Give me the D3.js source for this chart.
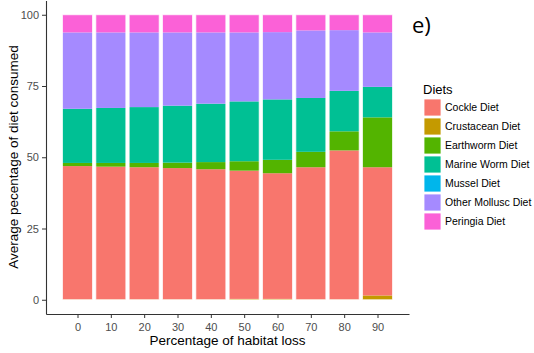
<!DOCTYPE html>
<html><head><meta charset="utf-8">
<script src="https://cdn.jsdelivr.net/npm/d3@7"></script>
<style>body{margin:0;background:#fff}svg{display:block}text{font-family:Arial,"Liberation Sans",sans-serif}</style>
</head><body>
<script>
const habitatLoss = [0,10,20,30,40,50,60,70,80,90];
const diets = ["Cockle Diet","Crustacean Diet","Earthworm Diet","Marine Worm Diet","Mussel Diet","Other Mollusc Diet","Peringia Diet"];
const colors = ["#F8766D","#C49A00","#53B400","#00C094","#00B6EB","#A58AFF","#FB61D7"];
const cockle     = [46.8,46.6,46.4,46.1,45.7,45.0,44.1,46.4,52.3,45.0];
const crustacean = [0.1,0.1,0.1,0.1,0.1,0.3,0.3,0.1,0.1,1.5];
const earthworm  = [1.1,1.3,1.5,1.9,2.5,3.3,4.7,5.4,6.7,17.5];
const marineWorm = [19.0,19.3,19.6,20.0,20.5,21.0,21.2,18.9,14.2,10.7];
const mussel     = [0,0,0,0,0,0,0,0,0,0];
const otherMollusc=[26.8,26.5,26.2,25.7,25.0,24.2,23.6,23.7,21.3,19.1];
const peringia   = [6.2,6.2,6.2,6.2,6.2,6.2,6.1,5.5,5.4,6.2];
const yTicks = [0,25,50,75,100];
const seriesByDiet = {"Cockle Diet":cockle,"Crustacean Diet":crustacean,"Earthworm Diet":earthworm,
  "Marine Worm Diet":marineWorm,"Mussel Diet":mussel,"Other Mollusc Diet":otherMollusc,"Peringia Diet":peringia};
// stacking order bottom -> top as in picture
const stackOrder = ["Mussel Diet","Crustacean Diet","Cockle Diet","Earthworm Diet","Marine Worm Diet","Other Mollusc Diet","Peringia Diet"];

const W=534,H=353;
const svg=d3.select("body").append("svg").attr("width",W).attr("height",H);
const x=d3.scaleLinear().domain([-9.45,99.45]).range([46,409]);
const y=d3.scaleLinear().domain([-5,105]).range([314,0.5]);
const color=d3.scaleOrdinal().domain(diets).range(colors);

const rows=habitatLoss.map((h,i)=>{const r={loss:h};diets.forEach(d=>r[d]=seriesByDiet[d][i]);return r;});
const stacked=d3.stack().keys(stackOrder)(rows);

const g=svg.append("g");
stacked.forEach(layer=>{
  g.selectAll(null).data(layer).enter().append("rect")
   .attr("x",d=>x(d.data.loss-4.5))
   .attr("width",x(4.5)-x(-4.5))
   .attr("y",d=>y(d[1]))
   .attr("height",d=>Math.max(0,y(d[0])-y(d[1])))
   .attr("fill",color(layer.key));
});
// white outlines
g.selectAll(null).data(rows).enter().append("rect")
 .attr("x",d=>x(d.loss-4.5)).attr("width",x(4.5)-x(-4.5))
 .attr("y",y(100)).attr("height",y(0)-y(100))
 .attr("fill","none").attr("stroke","#fff").attr("stroke-opacity",0.7).attr("stroke-width",1);

// axes
const xAxis=svg.append("g").attr("transform","translate(0,314)")
 .call(d3.axisBottom(x).tickValues(habitatLoss).tickSize(4).tickSizeOuter(0));
const yAxis=svg.append("g").attr("transform","translate(46,0)")
 .call(d3.axisLeft(y).tickValues(yTicks).tickSize(4).tickSizeOuter(0));
[xAxis,yAxis].forEach(a=>{
  a.select(".domain").attr("stroke","#333").attr("stroke-width",1.1);
  a.selectAll(".tick line").attr("stroke","#333");
  a.selectAll(".tick text").attr("fill","#4d4d4d").style("font-size","11px");
});
xAxis.selectAll(".tick text").attr("dy","0.95em");
yAxis.selectAll(".tick text").attr("x",-7);

svg.append("text").attr("x",227.5).attr("y",345).attr("text-anchor","middle")
 .style("font-size","13.5px").attr("fill","#000").text("Percentage of habitat loss");
svg.append("text").attr("transform","translate(18,157) rotate(-90)").attr("text-anchor","middle")
 .style("font-size","13.5px").attr("fill","#000").text("Average pecentage of diet consumed");

// legend
const lg=svg.append("g");
lg.append("text").attr("x",423).attr("y",94).style("font-size","13px").text("Diets");
diets.forEach((d,i)=>{
  const yy=99+i*19;
  lg.append("rect").attr("x",424).attr("y",yy).attr("width",17).attr("height",17)
    .attr("fill",color(d)).attr("stroke","#fff").attr("stroke-width",0.8);
  lg.append("text").attr("x",445).attr("y",yy+12).style("font-size","10.5px").attr("fill","#000").text(d);
});

svg.append("text").attr("x",412).attr("y",33).style("font-size","22px")
 .style("font-family","'Open Sans',Arial,sans-serif").text("e)");
</script>
</body></html>
